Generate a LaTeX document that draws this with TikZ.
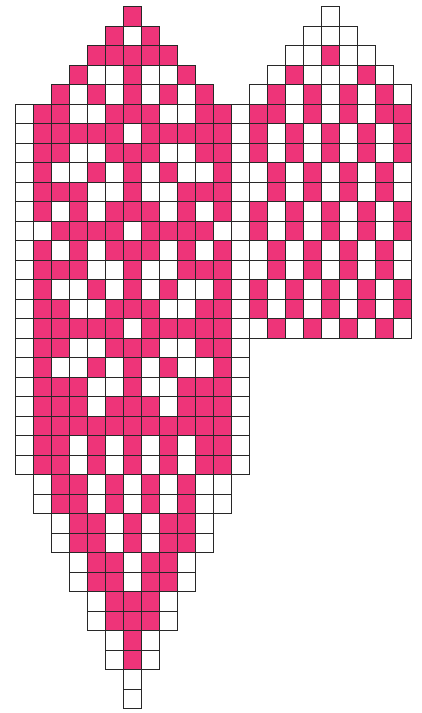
\documentclass[tikz,border=0pt]{standalone}
\definecolor{c1}{RGB}{238,52,121}
\definecolor{c0}{RGB}{255,255,255}
\definecolor{gridline}{RGB}{40,40,40}
\tikzset{cellbox/.style={draw=gridline, line width=0.9pt}}
\begin{document}
\begin{tikzpicture}[x=1pt,y=-1pt]
\useasboundingbox (0,0) rectangle (422,713);
\foreach \r/\s/\p in {
0/6/{1},
1/5/{1,0,1},
2/4/{1,1,1,1,1},
3/3/{1,0,0,1,0,0,1},
4/2/{1,0,1,0,1,0,1,0,1},
5/0/{0,1,1,0,0,1,1,1,0,0,1,1,0},
6/0/{0,1,1,1,1,1,0,1,1,1,1,1,0},
7/0/{0,1,1,0,0,1,1,1,0,0,1,1,0},
8/0/{0,1,0,0,1,0,1,0,1,0,0,1,0},
9/0/{0,1,1,1,0,0,1,0,0,1,1,1,0},
10/0/{0,1,0,1,0,1,1,1,0,1,0,1,0},
11/0/{0,0,1,1,1,1,0,1,1,1,1,0,0},
12/0/{0,1,0,1,0,1,1,1,0,1,0,1,0},
13/0/{0,1,1,1,0,0,1,0,0,1,1,1,0},
14/0/{0,1,0,0,1,0,1,0,1,0,0,1,0},
15/0/{0,1,1,0,0,1,1,1,0,0,1,1,0},
16/0/{0,1,1,1,1,1,0,1,1,1,1,1,0},
17/0/{0,1,1,0,0,1,1,1,0,0,1,1,0},
18/0/{0,1,0,0,1,0,1,0,1,0,0,1,0},
19/0/{0,1,1,1,0,0,1,0,0,1,1,1,0},
20/0/{0,1,1,1,0,1,1,1,0,1,1,1,0},
21/0/{0,1,1,1,1,1,1,1,1,1,1,1,0},
22/0/{0,1,1,0,1,0,1,0,1,0,1,1,0},
23/0/{0,1,1,0,1,0,1,0,1,0,1,1,0},
24/1/{0,1,1,0,1,0,1,0,1,0,0},
25/1/{0,1,1,0,1,0,1,0,1,0,0},
26/2/{0,1,1,0,1,0,1,1,0},
27/2/{0,1,1,0,1,0,1,1,0},
28/3/{0,1,1,0,1,1,0},
29/3/{0,1,1,0,1,1,0},
30/4/{0,1,1,1,0},
31/4/{0,1,1,1,0},
32/5/{0,1,0},
33/5/{0,1,0},
34/6/{0},
35/6/{0},
0/17/{0},
1/16/{0,0,0},
2/15/{0,0,1,0,0},
3/14/{0,1,0,0,0,1,0},
4/13/{0,1,0,1,0,1,0,1,0},
5/13/{1,1,0,1,0,1,0,1,1},
6/13/{1,0,1,0,1,0,1,0,1},
7/13/{1,0,1,0,1,0,1,0,1},
8/13/{0,1,0,1,0,1,0,1,0},
9/13/{0,1,0,1,0,1,0,1,0},
10/13/{1,0,1,0,1,0,1,0,1},
11/13/{1,0,1,0,1,0,1,0,1},
12/13/{0,1,0,1,0,1,0,1,0},
13/13/{0,1,0,1,0,1,0,1,0},
14/13/{1,0,1,0,1,0,1,0,1},
15/13/{1,0,1,0,1,0,1,0,1},
16/13/{0,1,0,1,0,1,0,1,0}}{
  \foreach \v [count=\k from 0] in \p {
    \pgfmathsetmacro\xx{15.7+(\s+\k)*18}
    \pgfmathsetmacro\yy{6.7+\r*19.5}
    \draw[cellbox, fill=c\v] (\xx,\yy) rectangle ++(18,19.5);
  }
}
\end{tikzpicture}
\end{document}
